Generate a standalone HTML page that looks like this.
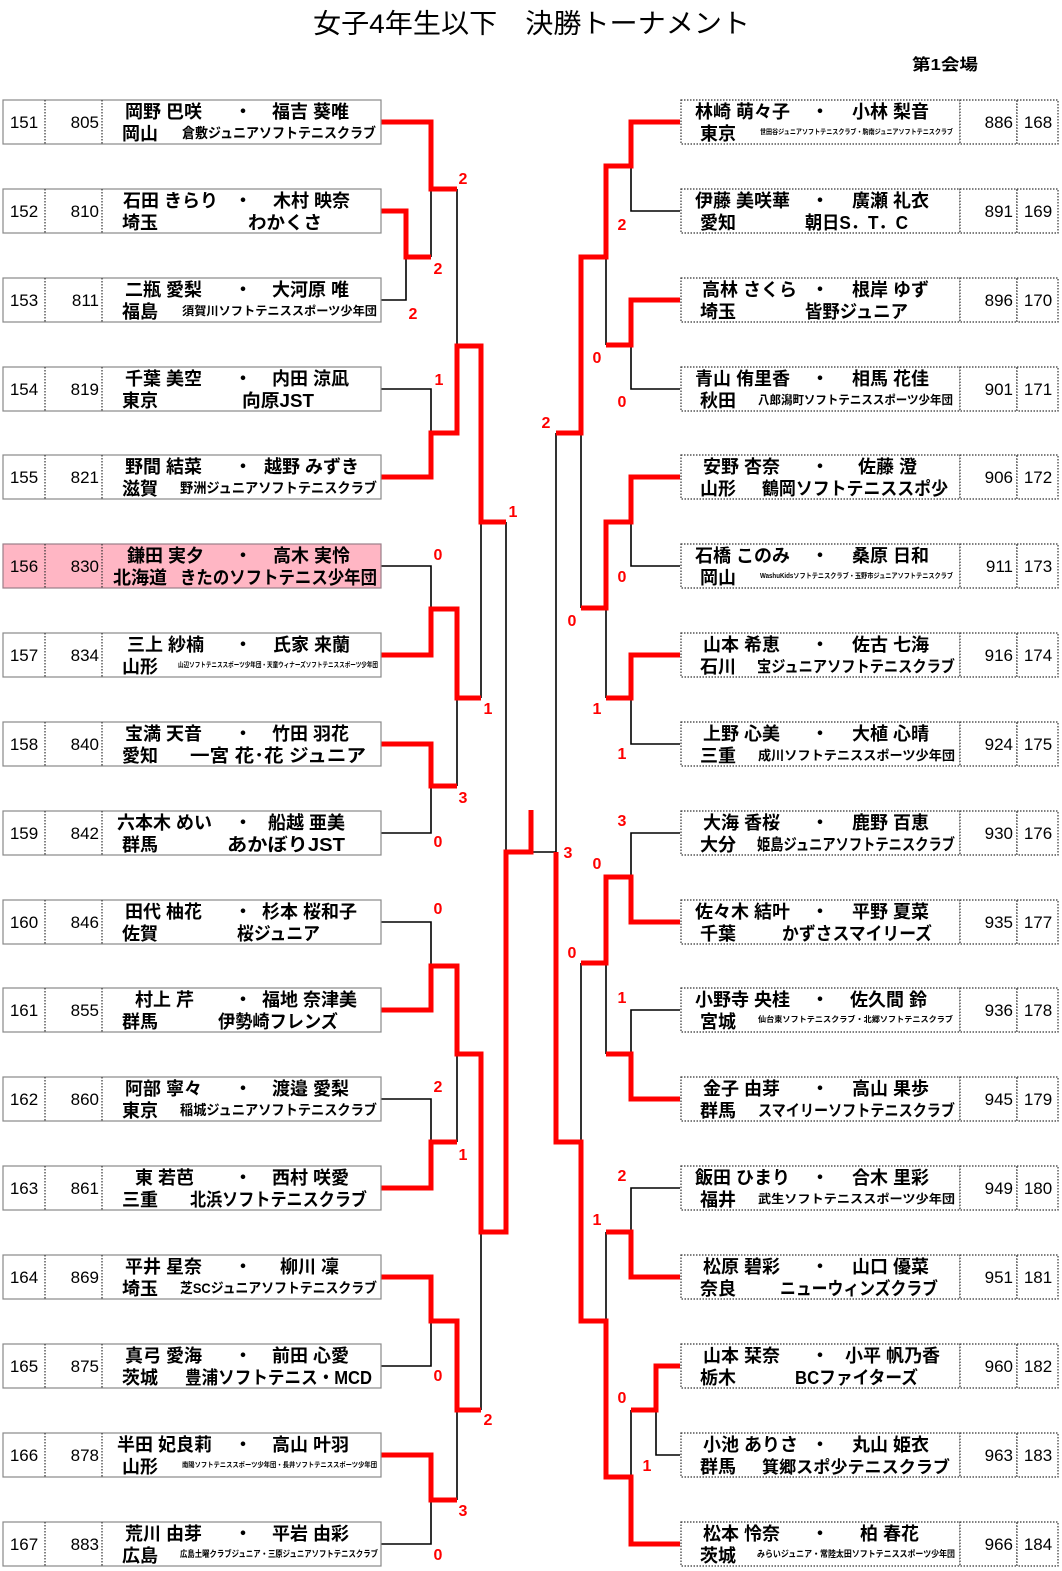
<!DOCTYPE html>
<html><head><meta charset="utf-8"><style>
html,body{margin:0;padding:0;background:#fff}
svg{display:block}
.nm{font-family:"Liberation Sans","Noto Sans CJK JP",sans-serif;font-weight:bold;font-size:18px;fill:#000}
.cl{font-family:"Liberation Sans","Noto Sans CJK JP",sans-serif;font-weight:bold;fill:#000}
.n{font-family:"Liberation Sans","Noto Sans CJK JP",sans-serif;font-size:17px;fill:#000}
.sc{font-family:"Liberation Sans",sans-serif;font-weight:bold;font-size:16px;fill:#f00;text-anchor:middle}
.bx{fill:#fff;stroke:#888;stroke-width:1.2}
.pk{fill:#FFB6C4;stroke:#9a7f88;stroke-width:1.2}
.bd{fill:#fff;stroke:#333;stroke-width:1.2;stroke-dasharray:1.5 1.5}
.dt{stroke:#333;stroke-width:1.2;stroke-dasharray:1.5 1.5;fill:none}
.bk{stroke:#000;stroke-width:1.6;fill:none}
.rd{stroke:#f00;stroke-width:5;fill:none;stroke-linejoin:miter}
</style></head><body>
<svg width="1062" height="1571" viewBox="0 0 1062 1571" xmlns="http://www.w3.org/2000/svg">
<text x="313" y="33" class="nm" style="font-size:27px;font-weight:normal" textLength="437" lengthAdjust="spacingAndGlyphs">女子4年生以下　決勝トーナメント</text>
<text x="912" y="70" class="nm" style="font-size:16px" textLength="66" lengthAdjust="spacingAndGlyphs">第1会場</text>

<path class="bk" d="M380 211H406V300H380M406 257H431
M380 122H431V257M431 189H457
M380 389H431V477H380M431 433H457
M380 566H431V655H380M431 609H457
M380 744H431V833H380M431 786H457
M380 922H431V1010H380M431 966H457
M380 1099H431V1188H380M431 1142H457
M380 1277H431V1366H380M431 1321H457
M380 1455H431V1544H380M431 1500H457
M457 189V433M457 346H481
M457 609V786M457 698H481
M457 966V1142M457 1054H481
M457 1321V1500M457 1410H481
M481 346V698M481 522H506
M481 1054V1410M481 1232H506
M506 522V1232M506 852H556
M680 122H631V211H680M631 166H606
M680 300H631V389H680M631 345H606
M680 477H631V566H680M631 522H606
M680 655H631V744H680M631 698H606
M680 833H631V922H680M631 877H606
M680 1010H631V1099H680M631 1054H606
M680 1188H631V1277H680M631 1232H606
M680 1366H656V1455H680M656 1410H631
M680 1544H631V1410M631 1477H606
M606 166V345M606 257H581
M606 522V698M606 608H581
M606 877V1054M606 963H581
M606 1232V1477M606 1321H581
M581 257V608M581 433H556
M581 963V1321M581 1142H556
M556 433V1142"/>

<path class="rd" d="M380 122H431V189H457"/>
<path class="rd" d="M380 211H406V257H431"/>
<path class="rd" d="M380 477H431V433H457V346H481V522H506"/>
<path class="rd" d="M380 655H431V609H457V698H481"/>
<path class="rd" d="M380 744H431V786H457"/>
<path class="rd" d="M380 1010H431V966H457V1054H481V1232H506V852H531V810"/>
<path class="rd" d="M380 1188H431V1142H457"/>
<path class="rd" d="M380 1277H431V1321H457V1410H481"/>
<path class="rd" d="M380 1455H431V1500H457"/>
<path class="rd" d="M680 122H631V166H606V257H581V433H556"/>
<path class="rd" d="M680 300H631V345H606"/>
<path class="rd" d="M680 477H631V522H606V608H581"/>
<path class="rd" d="M680 655H631V698H606"/>
<path class="rd" d="M680 922H631V877H606V963H581"/>
<path class="rd" d="M680 1099H631V1054H606"/>
<path class="rd" d="M680 1277H631V1232H606"/>
<path class="rd" d="M680 1366H656V1410H631"/>
<path class="rd" d="M680 1544H631V1477H606V1321H581V1142H556V852"/>

<g>
<text class="sc" x="463" y="184">2</text>
<text class="sc" x="438" y="274">2</text>
<text class="sc" x="413" y="319">2</text>
<text class="sc" x="439" y="385">1</text>
<text class="sc" x="513" y="517">1</text>
<text class="sc" x="438" y="560">0</text>
<text class="sc" x="488" y="714">1</text>
<text class="sc" x="463" y="803">3</text>
<text class="sc" x="438" y="847">0</text>
<text class="sc" x="438" y="914">0</text>
<text class="sc" x="438" y="1092">2</text>
<text class="sc" x="463" y="1160">1</text>
<text class="sc" x="438" y="1381">0</text>
<text class="sc" x="488" y="1425">2</text>
<text class="sc" x="463" y="1516">3</text>
<text class="sc" x="438" y="1560">0</text>
<text class="sc" x="622" y="230">2</text>
<text class="sc" x="597" y="363">0</text>
<text class="sc" x="622" y="407">0</text>
<text class="sc" x="546" y="428">2</text>
<text class="sc" x="622" y="582">0</text>
<text class="sc" x="572" y="626">0</text>
<text class="sc" x="597" y="714">1</text>
<text class="sc" x="622" y="759">1</text>
<text class="sc" x="622" y="826">3</text>
<text class="sc" x="597" y="869">0</text>
<text class="sc" x="568" y="858">3</text>
<text class="sc" x="572" y="958">0</text>
<text class="sc" x="622" y="1003">1</text>
<text class="sc" x="622" y="1181">2</text>
<text class="sc" x="597" y="1225">1</text>
<text class="sc" x="622" y="1403">0</text>
<text class="sc" x="647" y="1471">1</text>
</g>

<g transform="translate(0,122)"><rect x="3" y="-22" width="378" height="44" class="bx"/><path d="M45 -22V22M102 -22V22" class="dt"/><text x="24" y="6" class="n" text-anchor="middle">151</text><text x="99" y="6" class="n" text-anchor="end">805</text><text x="125" y="-4" class="nm">岡野 巴咲</text><text x="243" y="-4" class="nm" text-anchor="middle">・</text><text x="272" y="-4" class="nm">福吉 葵唯</text><text x="122" y="18" class="nm">岡山</text><text x="182" y="16" class="cl" font-size="14" textLength="194" lengthAdjust="spacingAndGlyphs">倉敷ジュニアソフトテニスクラブ</text></g>

<g transform="translate(0,211)"><rect x="3" y="-22" width="378" height="44" class="bx"/><path d="M45 -22V22M102 -22V22" class="dt"/><text x="24" y="6" class="n" text-anchor="middle">152</text><text x="99" y="6" class="n" text-anchor="end">810</text><text x="123" y="-4" class="nm">石田 きらり</text><text x="243" y="-4" class="nm" text-anchor="middle">・</text><text x="273" y="-4" class="nm">木村 映奈</text><text x="122" y="18" class="nm">埼玉</text><text x="248" y="18" class="cl" font-size="18" textLength="74" lengthAdjust="spacingAndGlyphs">わかくさ</text></g>

<g transform="translate(0,300)"><rect x="3" y="-22" width="378" height="44" class="bx"/><path d="M45 -22V22M102 -22V22" class="dt"/><text x="24" y="6" class="n" text-anchor="middle">153</text><text x="99" y="6" class="n" text-anchor="end">811</text><text x="125" y="-4" class="nm">二瓶 愛梨</text><text x="243" y="-4" class="nm" text-anchor="middle">・</text><text x="272" y="-4" class="nm">大河原 唯</text><text x="122" y="18" class="nm">福島</text><text x="182" y="15" class="cl" font-size="12" textLength="195" lengthAdjust="spacingAndGlyphs">須賀川ソフトテニススポーツ少年団</text></g>

<g transform="translate(0,389)"><rect x="3" y="-22" width="378" height="44" class="bx"/><path d="M45 -22V22M102 -22V22" class="dt"/><text x="24" y="6" class="n" text-anchor="middle">154</text><text x="99" y="6" class="n" text-anchor="end">819</text><text x="125" y="-4" class="nm">千葉 美空</text><text x="243" y="-4" class="nm" text-anchor="middle">・</text><text x="272" y="-4" class="nm">内田 涼凪</text><text x="122" y="18" class="nm">東京</text><text x="242" y="18" class="cl" font-size="18" textLength="72" lengthAdjust="spacingAndGlyphs">向原JST</text></g>

<g transform="translate(0,477)"><rect x="3" y="-22" width="378" height="44" class="bx"/><path d="M45 -22V22M102 -22V22" class="dt"/><text x="24" y="6" class="n" text-anchor="middle">155</text><text x="99" y="6" class="n" text-anchor="end">821</text><text x="125" y="-4" class="nm">野間 結菜</text><text x="243" y="-4" class="nm" text-anchor="middle">・</text><text x="264" y="-4" class="nm">越野 みずき</text><text x="122" y="18" class="nm">滋賀</text><text x="180" y="16" class="cl" font-size="14" textLength="197" lengthAdjust="spacingAndGlyphs">野洲ジュニアソフトテニスクラブ</text></g>

<g transform="translate(0,566)"><rect x="3" y="-22" width="378" height="44" class="pk"/><path d="M45 -22V22M102 -22V22" class="dt"/><text x="24" y="6" class="n" text-anchor="middle">156</text><text x="99" y="6" class="n" text-anchor="end">830</text><text x="127" y="-4" class="nm">鎌田 実夕</text><text x="243" y="-4" class="nm" text-anchor="middle">・</text><text x="273" y="-4" class="nm">高木 実怜</text><text x="113" y="18" class="nm">北海道</text><text x="180" y="18" class="cl" font-size="18" textLength="197" lengthAdjust="spacingAndGlyphs">きたのソフトテニス少年団</text></g>

<g transform="translate(0,655)"><rect x="3" y="-22" width="378" height="44" class="bx"/><path d="M45 -22V22M102 -22V22" class="dt"/><text x="24" y="6" class="n" text-anchor="middle">157</text><text x="99" y="6" class="n" text-anchor="end">834</text><text x="127" y="-4" class="nm">三上 紗楠</text><text x="243" y="-4" class="nm" text-anchor="middle">・</text><text x="273" y="-4" class="nm">氏家 来蘭</text><text x="122" y="18" class="nm">山形</text><text x="178" y="12" class="cl" font-size="7" textLength="200" lengthAdjust="spacingAndGlyphs">山辺ソフトテニススポーツ少年団・天童ウィナーズソフトテニススポーツ少年団</text></g>

<g transform="translate(0,744)"><rect x="3" y="-22" width="378" height="44" class="bx"/><path d="M45 -22V22M102 -22V22" class="dt"/><text x="24" y="6" class="n" text-anchor="middle">158</text><text x="99" y="6" class="n" text-anchor="end">840</text><text x="125" y="-4" class="nm">宝満 天音</text><text x="243" y="-4" class="nm" text-anchor="middle">・</text><text x="272" y="-4" class="nm">竹田 羽花</text><text x="122" y="18" class="nm">愛知</text><text x="190" y="18" class="cl" font-size="18" textLength="176" lengthAdjust="spacingAndGlyphs">一宮 花･花 ジュニア</text></g>

<g transform="translate(0,833)"><rect x="3" y="-22" width="378" height="44" class="bx"/><path d="M45 -22V22M102 -22V22" class="dt"/><text x="24" y="6" class="n" text-anchor="middle">159</text><text x="99" y="6" class="n" text-anchor="end">842</text><text x="117" y="-4" class="nm">六本木 めい</text><text x="243" y="-4" class="nm" text-anchor="middle">・</text><text x="268" y="-4" class="nm">船越 亜美</text><text x="122" y="18" class="nm">群馬</text><text x="227" y="18" class="cl" font-size="18" textLength="118" lengthAdjust="spacingAndGlyphs">あかぼりJST</text></g>

<g transform="translate(0,922)"><rect x="3" y="-22" width="378" height="44" class="bx"/><path d="M45 -22V22M102 -22V22" class="dt"/><text x="24" y="6" class="n" text-anchor="middle">160</text><text x="99" y="6" class="n" text-anchor="end">846</text><text x="125" y="-4" class="nm">田代 柚花</text><text x="243" y="-4" class="nm" text-anchor="middle">・</text><text x="262" y="-4" class="nm">杉本 桜和子</text><text x="122" y="18" class="nm">佐賀</text><text x="237" y="18" class="cl" font-size="18" textLength="83" lengthAdjust="spacingAndGlyphs">桜ジュニア</text></g>

<g transform="translate(0,1010)"><rect x="3" y="-22" width="378" height="44" class="bx"/><path d="M45 -22V22M102 -22V22" class="dt"/><text x="24" y="6" class="n" text-anchor="middle">161</text><text x="99" y="6" class="n" text-anchor="end">855</text><text x="135" y="-4" class="nm">村上 芹</text><text x="243" y="-4" class="nm" text-anchor="middle">・</text><text x="262" y="-4" class="nm">福地 奈津美</text><text x="122" y="18" class="nm">群馬</text><text x="218" y="18" class="cl" font-size="18" textLength="120" lengthAdjust="spacingAndGlyphs">伊勢崎フレンズ</text></g>

<g transform="translate(0,1099)"><rect x="3" y="-22" width="378" height="44" class="bx"/><path d="M45 -22V22M102 -22V22" class="dt"/><text x="24" y="6" class="n" text-anchor="middle">162</text><text x="99" y="6" class="n" text-anchor="end">860</text><text x="125" y="-4" class="nm">阿部 寧々</text><text x="243" y="-4" class="nm" text-anchor="middle">・</text><text x="272" y="-4" class="nm">渡邉 愛梨</text><text x="122" y="18" class="nm">東京</text><text x="180" y="16" class="cl" font-size="14" textLength="197" lengthAdjust="spacingAndGlyphs">稲城ジュニアソフトテニスクラブ</text></g>

<g transform="translate(0,1188)"><rect x="3" y="-22" width="378" height="44" class="bx"/><path d="M45 -22V22M102 -22V22" class="dt"/><text x="24" y="6" class="n" text-anchor="middle">163</text><text x="99" y="6" class="n" text-anchor="end">861</text><text x="135" y="-4" class="nm">東 若芭</text><text x="243" y="-4" class="nm" text-anchor="middle">・</text><text x="272" y="-4" class="nm">西村 咲愛</text><text x="122" y="18" class="nm">三重</text><text x="190" y="18" class="cl" font-size="18" textLength="177" lengthAdjust="spacingAndGlyphs">北浜ソフトテニスクラブ</text></g>

<g transform="translate(0,1277)"><rect x="3" y="-22" width="378" height="44" class="bx"/><path d="M45 -22V22M102 -22V22" class="dt"/><text x="24" y="6" class="n" text-anchor="middle">164</text><text x="99" y="6" class="n" text-anchor="end">869</text><text x="125" y="-4" class="nm">平井 星奈</text><text x="243" y="-4" class="nm" text-anchor="middle">・</text><text x="280" y="-4" class="nm">柳川 凜</text><text x="122" y="18" class="nm">埼玉</text><text x="180" y="16" class="cl" font-size="14" textLength="197" lengthAdjust="spacingAndGlyphs">芝SCジュニアソフトテニスクラブ</text></g>

<g transform="translate(0,1366)"><rect x="3" y="-22" width="378" height="44" class="bx"/><path d="M45 -22V22M102 -22V22" class="dt"/><text x="125" y="-4" class="nm">真弓 愛海</text><text x="24" y="6" class="n" text-anchor="middle">165</text><text x="99" y="6" class="n" text-anchor="end">875</text><text x="243" y="-4" class="nm" text-anchor="middle">・</text><text x="272" y="-4" class="nm">前田 心愛</text><text x="122" y="18" class="nm">茨城</text><text x="185" y="18" class="cl" font-size="18" textLength="187" lengthAdjust="spacingAndGlyphs">豊浦ソフトテニス・MCD</text></g>

<g transform="translate(0,1455)"><rect x="3" y="-22" width="378" height="44" class="bx"/><path d="M45 -22V22M102 -22V22" class="dt"/><text x="24" y="6" class="n" text-anchor="middle">166</text><text x="99" y="6" class="n" text-anchor="end">878</text><text x="117" y="-4" class="nm">半田 妃良莉</text><text x="243" y="-4" class="nm" text-anchor="middle">・</text><text x="272" y="-4" class="nm">高山 叶羽</text><text x="122" y="18" class="nm">山形</text><text x="182" y="12" class="cl" font-size="7" textLength="195" lengthAdjust="spacingAndGlyphs">南陽ソフトテニススポーツ少年団・長井ソフトテニススポーツ少年団</text></g>

<g transform="translate(0,1544)"><rect x="3" y="-22" width="378" height="44" class="bx"/><path d="M45 -22V22M102 -22V22" class="dt"/><text x="24" y="6" class="n" text-anchor="middle">167</text><text x="99" y="6" class="n" text-anchor="end">883</text><text x="125" y="-4" class="nm">荒川 由芽</text><text x="243" y="-4" class="nm" text-anchor="middle">・</text><text x="272" y="-4" class="nm">平岩 由彩</text><text x="122" y="18" class="nm">広島</text><text x="180" y="13" class="cl" font-size="9" textLength="198" lengthAdjust="spacingAndGlyphs">広島土曜クラブジュニア・三原ジュニアソフトテニスクラブ</text></g>

<g transform="translate(0,122)"><rect x="681" y="-22" width="279" height="44" class="bd"/><rect x="960" y="-22" width="57" height="44" class="bd"/><rect x="1017" y="-22" width="41" height="44" class="bd"/><text x="1013" y="6" class="n" text-anchor="end">886</text><text x="1038" y="6" class="n" text-anchor="middle">168</text><text x="695" y="-4" class="nm">林崎 萌々子</text><text x="820" y="-4" class="nm" text-anchor="middle">・</text><text x="852" y="-4" class="nm">小林 梨音</text><text x="700" y="18" class="nm">東京</text><text x="760" y="12" class="cl" font-size="7" textLength="193" lengthAdjust="spacingAndGlyphs">世田谷ジュニアソフトテニスクラブ・駒南ジュニアソフトテニスクラブ</text></g>

<g transform="translate(0,211)"><rect x="681" y="-22" width="279" height="44" class="bd"/><rect x="960" y="-22" width="57" height="44" class="bd"/><rect x="1017" y="-22" width="41" height="44" class="bd"/><text x="1013" y="6" class="n" text-anchor="end">891</text><text x="1038" y="6" class="n" text-anchor="middle">169</text><text x="695" y="-4" class="nm">伊藤 美咲華</text><text x="820" y="-4" class="nm" text-anchor="middle">・</text><text x="852" y="-4" class="nm">廣瀬 礼衣</text><text x="700" y="18" class="nm">愛知</text><text x="805" y="18" class="cl" font-size="18" textLength="103" lengthAdjust="spacingAndGlyphs">朝日S．T．C</text></g>

<g transform="translate(0,300)"><rect x="681" y="-22" width="279" height="44" class="bd"/><rect x="960" y="-22" width="57" height="44" class="bd"/><rect x="1017" y="-22" width="41" height="44" class="bd"/><text x="1013" y="6" class="n" text-anchor="end">896</text><text x="1038" y="6" class="n" text-anchor="middle">170</text><text x="702" y="-4" class="nm">高林 さくら</text><text x="820" y="-4" class="nm" text-anchor="middle">・</text><text x="852" y="-4" class="nm">根岸 ゆず</text><text x="700" y="18" class="nm">埼玉</text><text x="805" y="18" class="cl" font-size="18" textLength="103" lengthAdjust="spacingAndGlyphs">皆野ジュニア</text></g>

<g transform="translate(0,389)"><rect x="681" y="-22" width="279" height="44" class="bd"/><rect x="960" y="-22" width="57" height="44" class="bd"/><rect x="1017" y="-22" width="41" height="44" class="bd"/><text x="1013" y="6" class="n" text-anchor="end">901</text><text x="1038" y="6" class="n" text-anchor="middle">171</text><text x="695" y="-4" class="nm">青山 侑里香</text><text x="820" y="-4" class="nm" text-anchor="middle">・</text><text x="852" y="-4" class="nm">相馬 花佳</text><text x="700" y="18" class="nm">秋田</text><text x="758" y="15" class="cl" font-size="12" textLength="195" lengthAdjust="spacingAndGlyphs">八郎潟町ソフトテニススポーツ少年団</text></g>

<g transform="translate(0,477)"><rect x="681" y="-22" width="279" height="44" class="bd"/><rect x="960" y="-22" width="57" height="44" class="bd"/><rect x="1017" y="-22" width="41" height="44" class="bd"/><text x="1013" y="6" class="n" text-anchor="end">906</text><text x="1038" y="6" class="n" text-anchor="middle">172</text><text x="703" y="-4" class="nm">安野 杏奈</text><text x="820" y="-4" class="nm" text-anchor="middle">・</text><text x="858" y="-4" class="nm">佐藤 澄</text><text x="700" y="18" class="nm">山形</text><text x="762" y="18" class="cl" font-size="18" textLength="186" lengthAdjust="spacingAndGlyphs">鶴岡ソフトテニススポ少</text></g>

<g transform="translate(0,566)"><rect x="681" y="-22" width="279" height="44" class="bd"/><rect x="960" y="-22" width="57" height="44" class="bd"/><rect x="1017" y="-22" width="41" height="44" class="bd"/><text x="1013" y="6" class="n" text-anchor="end">911</text><text x="1038" y="6" class="n" text-anchor="middle">173</text><text x="695" y="-4" class="nm">石橋 このみ</text><text x="820" y="-4" class="nm" text-anchor="middle">・</text><text x="852" y="-4" class="nm">桑原 日和</text><text x="700" y="18" class="nm">岡山</text><text x="760" y="12" class="cl" font-size="7" textLength="193" lengthAdjust="spacingAndGlyphs">WashuKidsソフトテニスクラブ・玉野市ジュニアソフトテニスクラブ</text></g>

<g transform="translate(0,655)"><rect x="681" y="-22" width="279" height="44" class="bd"/><rect x="960" y="-22" width="57" height="44" class="bd"/><rect x="1017" y="-22" width="41" height="44" class="bd"/><text x="1013" y="6" class="n" text-anchor="end">916</text><text x="1038" y="6" class="n" text-anchor="middle">174</text><text x="703" y="-4" class="nm">山本 希恵</text><text x="820" y="-4" class="nm" text-anchor="middle">・</text><text x="852" y="-4" class="nm">佐古 七海</text><text x="700" y="18" class="nm">石川</text><text x="757" y="17" class="cl" font-size="16" textLength="198" lengthAdjust="spacingAndGlyphs">宝ジュニアソフトテニスクラブ</text></g>

<g transform="translate(0,744)"><rect x="681" y="-22" width="279" height="44" class="bd"/><rect x="960" y="-22" width="57" height="44" class="bd"/><rect x="1017" y="-22" width="41" height="44" class="bd"/><text x="1013" y="6" class="n" text-anchor="end">924</text><text x="1038" y="6" class="n" text-anchor="middle">175</text><text x="703" y="-4" class="nm">上野 心美</text><text x="820" y="-4" class="nm" text-anchor="middle">・</text><text x="852" y="-4" class="nm">大植 心晴</text><text x="700" y="18" class="nm">三重</text><text x="758" y="16" class="cl" font-size="13" textLength="197" lengthAdjust="spacingAndGlyphs">成川ソフトテニススポーツ少年団</text></g>

<g transform="translate(0,833)"><rect x="681" y="-22" width="279" height="44" class="bd"/><rect x="960" y="-22" width="57" height="44" class="bd"/><rect x="1017" y="-22" width="41" height="44" class="bd"/><text x="1013" y="6" class="n" text-anchor="end">930</text><text x="1038" y="6" class="n" text-anchor="middle">176</text><text x="703" y="-4" class="nm">大海 香桜</text><text x="820" y="-4" class="nm" text-anchor="middle">・</text><text x="852" y="-4" class="nm">鹿野 百恵</text><text x="700" y="18" class="nm">大分</text><text x="757" y="17" class="cl" font-size="16" textLength="198" lengthAdjust="spacingAndGlyphs">姫島ジュニアソフトテニスクラブ</text></g>

<g transform="translate(0,922)"><rect x="681" y="-22" width="279" height="44" class="bd"/><rect x="960" y="-22" width="57" height="44" class="bd"/><rect x="1017" y="-22" width="41" height="44" class="bd"/><text x="1013" y="6" class="n" text-anchor="end">935</text><text x="1038" y="6" class="n" text-anchor="middle">177</text><text x="695" y="-4" class="nm">佐々木 結叶</text><text x="820" y="-4" class="nm" text-anchor="middle">・</text><text x="852" y="-4" class="nm">平野 夏菜</text><text x="700" y="18" class="nm">千葉</text><text x="782" y="18" class="cl" font-size="18" textLength="150" lengthAdjust="spacingAndGlyphs">かずさスマイリーズ</text></g>

<g transform="translate(0,1010)"><rect x="681" y="-22" width="279" height="44" class="bd"/><rect x="960" y="-22" width="57" height="44" class="bd"/><rect x="1017" y="-22" width="41" height="44" class="bd"/><text x="1013" y="6" class="n" text-anchor="end">936</text><text x="1038" y="6" class="n" text-anchor="middle">178</text><text x="695" y="-4" class="nm">小野寺 央桂</text><text x="820" y="-4" class="nm" text-anchor="middle">・</text><text x="850" y="-4" class="nm">佐久間 鈴</text><text x="700" y="18" class="nm">宮城</text><text x="758" y="12" class="cl" font-size="8" textLength="195" lengthAdjust="spacingAndGlyphs">仙台東ソフトテニスクラブ・北郷ソフトテニスクラブ</text></g>

<g transform="translate(0,1099)"><rect x="681" y="-22" width="279" height="44" class="bd"/><rect x="960" y="-22" width="57" height="44" class="bd"/><rect x="1017" y="-22" width="41" height="44" class="bd"/><text x="1013" y="6" class="n" text-anchor="end">945</text><text x="1038" y="6" class="n" text-anchor="middle">179</text><text x="703" y="-4" class="nm">金子 由芽</text><text x="820" y="-4" class="nm" text-anchor="middle">・</text><text x="852" y="-4" class="nm">高山 果歩</text><text x="700" y="18" class="nm">群馬</text><text x="758" y="17" class="cl" font-size="16" textLength="197" lengthAdjust="spacingAndGlyphs">スマイリーソフトテニスクラブ</text></g>

<g transform="translate(0,1188)"><rect x="681" y="-22" width="279" height="44" class="bd"/><rect x="960" y="-22" width="57" height="44" class="bd"/><rect x="1017" y="-22" width="41" height="44" class="bd"/><text x="1013" y="6" class="n" text-anchor="end">949</text><text x="1038" y="6" class="n" text-anchor="middle">180</text><text x="695" y="-4" class="nm">飯田 ひまり</text><text x="820" y="-4" class="nm" text-anchor="middle">・</text><text x="852" y="-4" class="nm">合木 里彩</text><text x="700" y="18" class="nm">福井</text><text x="758" y="15" class="cl" font-size="12" textLength="197" lengthAdjust="spacingAndGlyphs">武生ソフトテニススポーツ少年団</text></g>

<g transform="translate(0,1277)"><rect x="681" y="-22" width="279" height="44" class="bd"/><rect x="960" y="-22" width="57" height="44" class="bd"/><rect x="1017" y="-22" width="41" height="44" class="bd"/><text x="1013" y="6" class="n" text-anchor="end">951</text><text x="1038" y="6" class="n" text-anchor="middle">181</text><text x="703" y="-4" class="nm">松原 碧彩</text><text x="820" y="-4" class="nm" text-anchor="middle">・</text><text x="852" y="-4" class="nm">山口 優菜</text><text x="700" y="18" class="nm">奈良</text><text x="780" y="18" class="cl" font-size="18" textLength="158" lengthAdjust="spacingAndGlyphs">ニューウィンズクラブ</text></g>

<g transform="translate(0,1366)"><rect x="681" y="-22" width="279" height="44" class="bd"/><rect x="960" y="-22" width="57" height="44" class="bd"/><rect x="1017" y="-22" width="41" height="44" class="bd"/><text x="1013" y="6" class="n" text-anchor="end">960</text><text x="1038" y="6" class="n" text-anchor="middle">182</text><text x="703" y="-4" class="nm">山本 栞奈</text><text x="820" y="-4" class="nm" text-anchor="middle">・</text><text x="845" y="-4" class="nm">小平 帆乃香</text><text x="700" y="18" class="nm">栃木</text><text x="795" y="18" class="cl" font-size="18" textLength="123" lengthAdjust="spacingAndGlyphs">BCファイターズ</text></g>

<g transform="translate(0,1455)"><rect x="681" y="-22" width="279" height="44" class="bd"/><rect x="960" y="-22" width="57" height="44" class="bd"/><rect x="1017" y="-22" width="41" height="44" class="bd"/><text x="1013" y="6" class="n" text-anchor="end">963</text><text x="1038" y="6" class="n" text-anchor="middle">183</text><text x="703" y="-4" class="nm">小池 ありさ</text><text x="820" y="-4" class="nm" text-anchor="middle">・</text><text x="852" y="-4" class="nm">丸山 姫衣</text><text x="700" y="18" class="nm">群馬</text><text x="762" y="18" class="cl" font-size="17" textLength="188" lengthAdjust="spacingAndGlyphs">箕郷スポ少テニスクラブ</text></g>

<g transform="translate(0,1544)"><rect x="681" y="-22" width="279" height="44" class="bd"/><rect x="960" y="-22" width="57" height="44" class="bd"/><rect x="1017" y="-22" width="41" height="44" class="bd"/><text x="1013" y="6" class="n" text-anchor="end">966</text><text x="1038" y="6" class="n" text-anchor="middle">184</text><text x="703" y="-4" class="nm">松本 怜奈</text><text x="820" y="-4" class="nm" text-anchor="middle">・</text><text x="860" y="-4" class="nm">柏 春花</text><text x="700" y="18" class="nm">茨城</text><text x="757" y="13" class="cl" font-size="9" textLength="198" lengthAdjust="spacingAndGlyphs">みらいジュニア・常陸太田ソフトテニススポーツ少年団</text></g>
</svg>
</body></html>
